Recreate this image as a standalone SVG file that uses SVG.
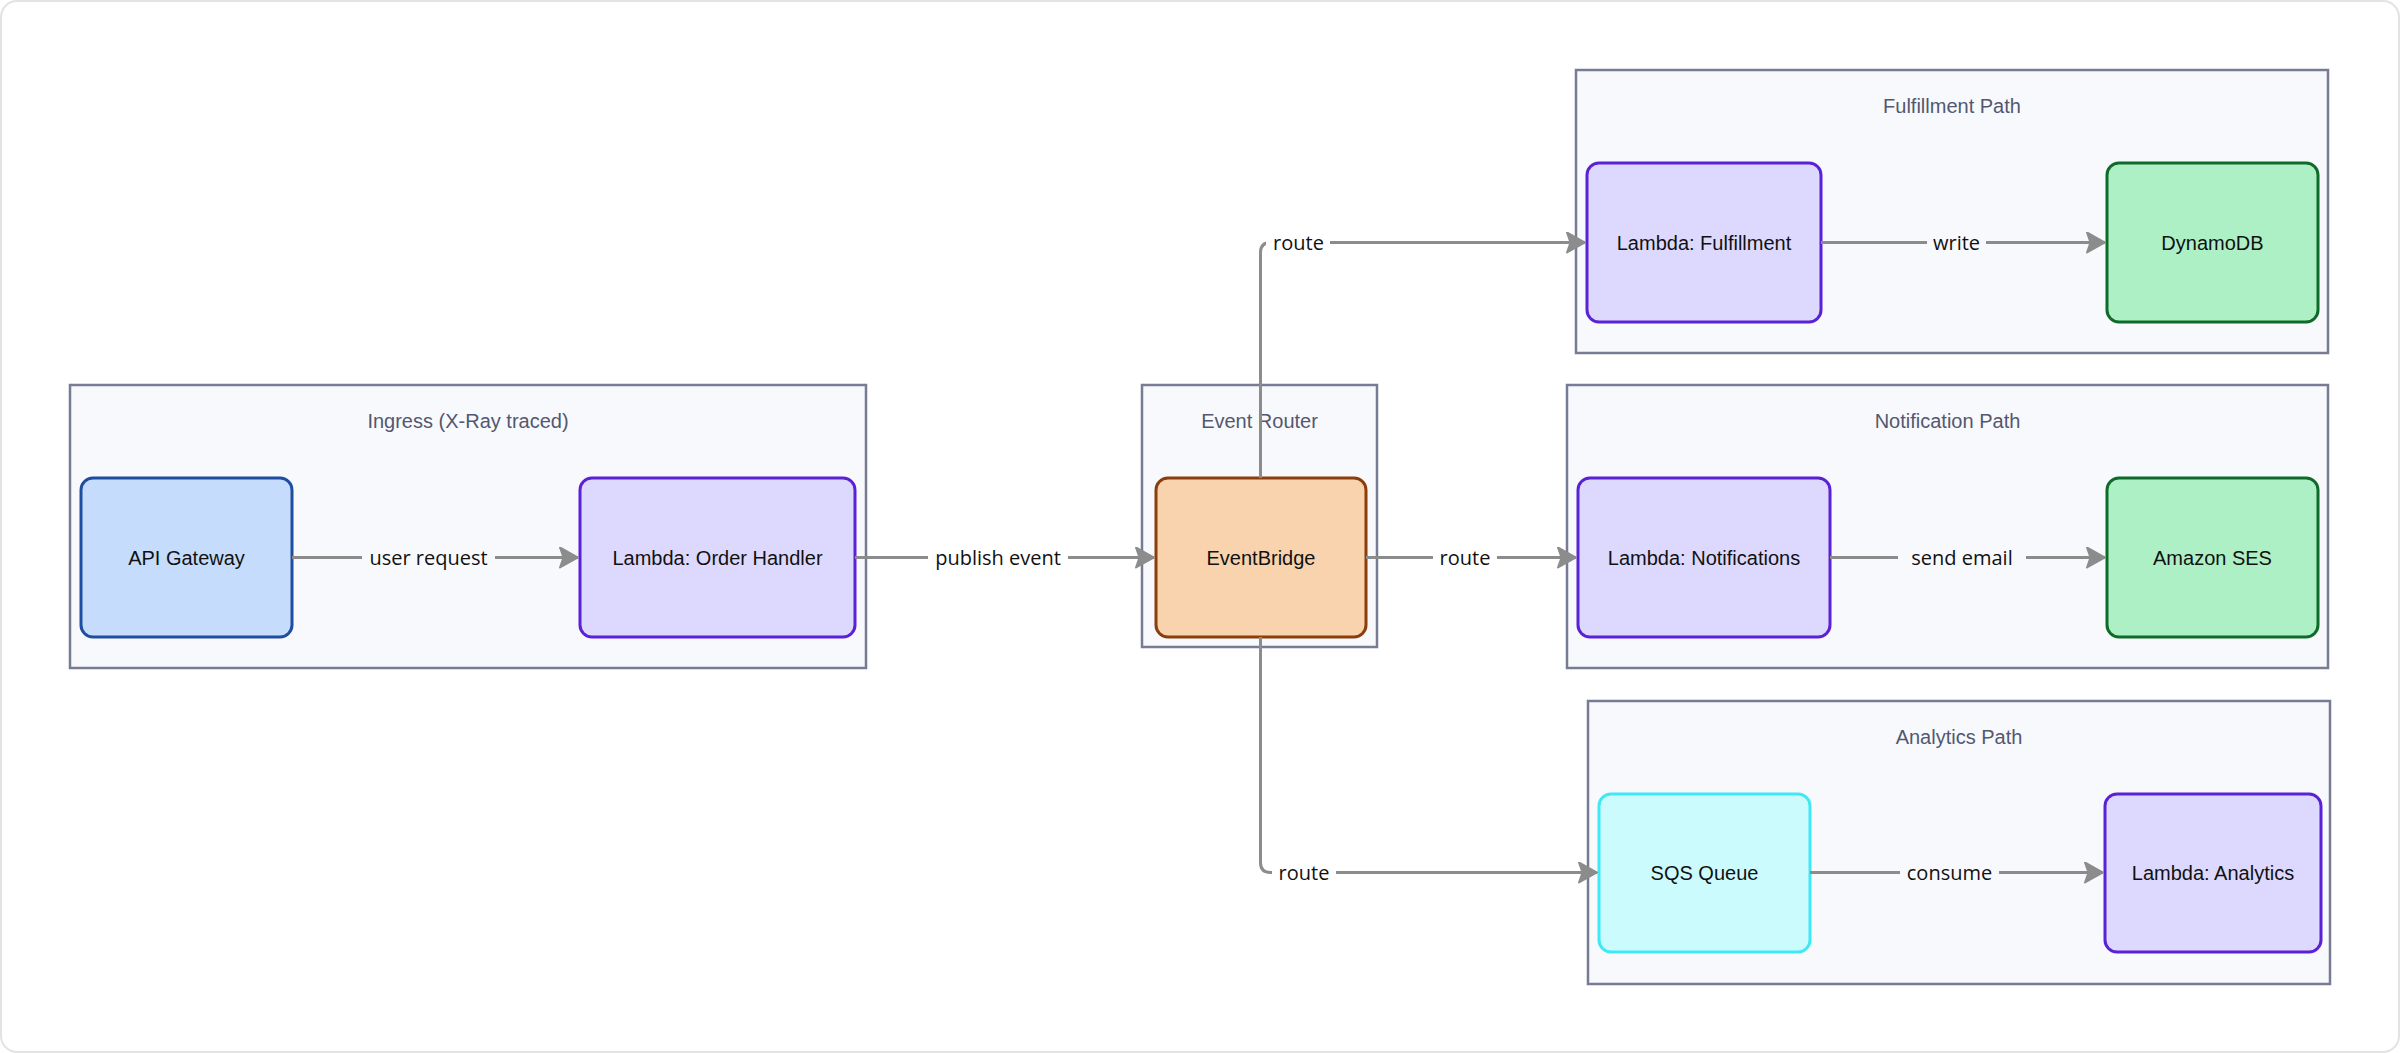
<svg xmlns="http://www.w3.org/2000/svg" width="2400" height="1053" viewBox="0 0 2400 1053">
<style>
.frame{fill:#ffffff;stroke:#e3e3e6;stroke-width:2}
.cluster{fill:#f8f9fc;stroke:#777b94;stroke-width:2.5}
.clabel{font-family:"Liberation Sans",Arial,sans-serif;font-size:20px;fill:#525870;text-anchor:middle;dominant-baseline:central}
.node rect{stroke-width:3}
.node text{font-family:"Liberation Sans",Arial,sans-serif;font-size:20px;fill:#111111;text-anchor:middle;dominant-baseline:central}
.api{fill:#c6dcfd;stroke:#1f4ea0}
.lambda{fill:#ddd9fe;stroke:#5b21d6}
.eb{fill:#f8d3ae;stroke:#8b3e0b}
.db{fill:#aef0c6;stroke:#0f6b2a}
.sqs{fill:#ccfbfe;stroke:#3ee8f5}
.edge{fill:none;stroke:#8c8c8c;stroke-width:3}
.elabel{font-family:"Open Sans","DejaVu Sans",sans-serif;font-size:20px;fill:#111111;text-anchor:middle;dominant-baseline:central}
.lbg{fill:#ffffff}
.lbgc{fill:#f8f9fc}
</style>
<defs>
<marker id="arrow" markerUnits="userSpaceOnUse" markerWidth="24" markerHeight="26" refX="19" refY="11" orient="auto">
<path d="M1,1 L19,11 L1,21 L4.5,11 z" fill="#8c8c8c" stroke="#8c8c8c" stroke-width="2" stroke-linejoin="round"/>
</marker>
</defs>
<rect class="frame" x="1" y="1" width="2398" height="1051" rx="16" ry="16"/>
<g id="clusters">
<g id="cluster-ingress"><rect class="cluster" x="70" y="385" width="796" height="283"/><text class="clabel" x="468" y="421">Ingress (X-Ray traced)</text></g>
<g id="cluster-router"><rect class="cluster" x="1142" y="385" width="235" height="262"/><text class="clabel" x="1259.5" y="421">Event Router</text></g>
<g id="cluster-fulfillment"><rect class="cluster" x="1576" y="70" width="752" height="283"/><text class="clabel" x="1952" y="106">Fulfillment Path</text></g>
<g id="cluster-notification"><rect class="cluster" x="1567" y="385" width="761" height="283"/><text class="clabel" x="1947.5" y="421">Notification Path</text></g>
<g id="cluster-analytics"><rect class="cluster" x="1588" y="701" width="742" height="283"/><text class="clabel" x="1959" y="737">Analytics Path</text></g>
</g>
<g id="node-api" class="node"><rect class="api" x="81" y="478" width="211" height="159" rx="12"/><text x="186.5" y="557.5">API Gateway</text></g>
<g id="node-order" class="node"><rect class="lambda" x="580" y="478" width="275" height="159" rx="12"/><text x="717.5" y="557.5">Lambda: Order Handler</text></g>
<g id="node-eventbridge" class="node"><rect class="eb" x="1156" y="478" width="210" height="159" rx="12"/><text x="1261" y="557.5">EventBridge</text></g>
<g id="node-fulfillment" class="node"><rect class="lambda" x="1587" y="163" width="234" height="159" rx="12"/><text x="1704" y="242.5">Lambda: Fulfillment</text></g>
<g id="node-dynamodb" class="node"><rect class="db" x="2107" y="163" width="211" height="159" rx="12"/><text x="2212.5" y="242.5">DynamoDB</text></g>
<g id="node-notifications" class="node"><rect class="lambda" x="1578" y="478" width="252" height="159" rx="12"/><text x="1704" y="557.5">Lambda: Notifications</text></g>
<g id="node-ses" class="node"><rect class="db" x="2107" y="478" width="211" height="159" rx="12"/><text x="2212.5" y="557.5">Amazon SES</text></g>
<g id="node-sqs" class="node"><rect class="sqs" x="1599" y="794" width="211" height="158" rx="12"/><text x="1704.5" y="873">SQS Queue</text></g>
<g id="node-analytics" class="node"><rect class="lambda" x="2105" y="794" width="216" height="158" rx="12"/><text x="2213" y="873">Lambda: Analytics</text></g>
<g id="connectors">
<path class="edge" d="M292,557.5 H578" marker-end="url(#arrow)"/>
<path class="edge" d="M855,557.5 H1154" marker-end="url(#arrow)"/>
<path class="edge" d="M1366,557.5 H1576" marker-end="url(#arrow)"/>
<path class="edge" d="M1830,557.5 H2105" marker-end="url(#arrow)"/>
<path class="edge" d="M1821,242.5 H2105" marker-end="url(#arrow)"/>
<path class="edge" d="M1810,872.5 H2103" marker-end="url(#arrow)"/>
<path class="edge" d="M1260.5,478 V252.5 Q1260.5,242.5 1270.5,242.5 H1585" marker-end="url(#arrow)"/>
<path class="edge" d="M1260.5,637 V862.5 Q1260.5,872.5 1270.5,872.5 H1597" marker-end="url(#arrow)"/>
<rect class="lbgc" x="362" y="543.5" width="133" height="28"/><text class="elabel" x="428.5" y="557.5">user request</text>
<rect class="lbg" x="928" y="543.5" width="140" height="28"/><text class="elabel" x="998" y="557.5">publish event</text>
<rect class="lbg" x="1433" y="543.5" width="64" height="28"/><text class="elabel" x="1465" y="557.5">route</text>
<rect class="lbgc" x="1898" y="543.5" width="128" height="28"/><text class="elabel" x="1962" y="557.5">send email</text>
<rect class="lbgc" x="1927" y="228.5" width="59" height="28"/><text class="elabel" x="1956.5" y="242.5">write</text>
<rect class="lbgc" x="1900" y="858.5" width="99" height="28"/><text class="elabel" x="1949.5" y="872.5">consume</text>
<rect class="lbg" x="1266" y="228.5" width="64" height="28"/><text class="elabel" x="1298.5" y="242.5">route</text>
<rect class="lbg" x="1272" y="858.5" width="64" height="28"/><text class="elabel" x="1304" y="872.5">route</text>
</g>
</svg>
